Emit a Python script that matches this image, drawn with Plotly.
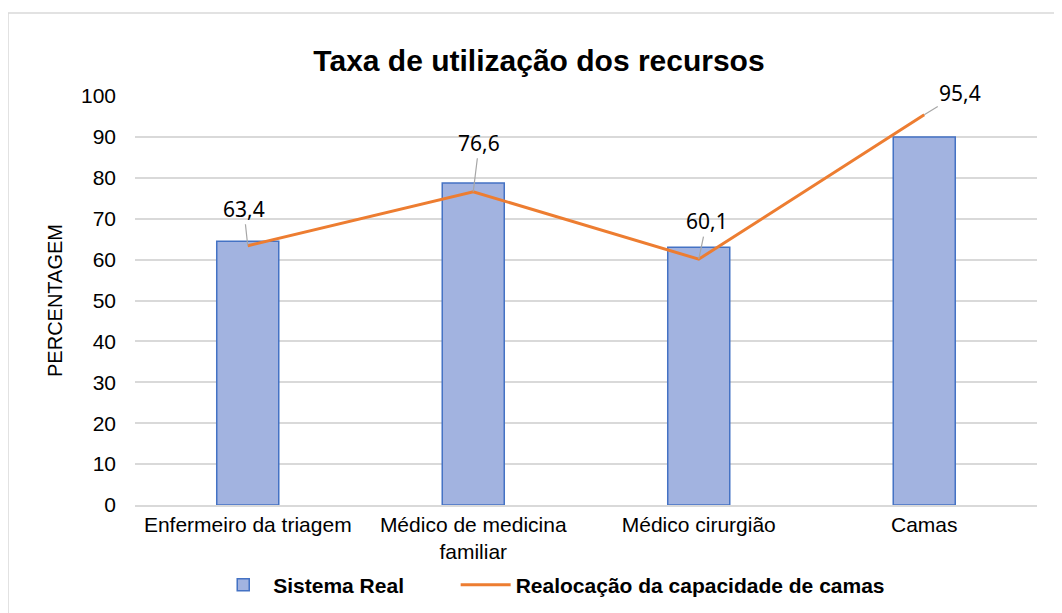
import plotly.graph_objects as go

categories = ["Enfermeiro da triagem", "Médico de medicina<br>familiar", "Médico cirurgião", "Camas"]
sistema_real = [64.5, 78.7, 63.0, 90.0]
realocacao = [63.4, 76.6, 60.1, 95.4]
label_text = ["63,4", "76,6", "60,1", "95,4"]
label_ax = [-4, 6, 8, 36]
label_ay = [-37, -49, -38, -22]

FONT = "Liberation Sans, Arial, sans-serif"
NB = "\u00a0"

fig = go.Figure()
fig.add_trace(go.Bar(
    x=categories, y=sistema_real, name="<b>Sistema Real</b>" + NB * 8,
    marker=dict(color="#a2b3e0", line=dict(color="#4472c4", width=1.5)),
))
fig.add_trace(go.Scatter(
    x=categories, y=realocacao, name="<b>Realocação da capacidade de camas</b>",
    mode="lines", line=dict(color="#ed7d31", width=3),
))

for c, v, t, ax, ay in zip(categories, realocacao, label_text, label_ax, label_ay):
    fig.add_annotation(
        x=c, y=v, text=t, showarrow=True, arrowhead=0, arrowwidth=1.2,
        arrowcolor="#a6a6a6", ax=ax, ay=ay, standoff=0,
        font=dict(family="Noto Sans, Liberation Sans, sans-serif", size=21, color="#000"),
    )

# outer chart border
fig.add_shape(type="rect", xref="paper", yref="paper",
              x0=-0.1408, x1=1.08, y0=-0.30, y1=1.2029,
              line=dict(color="#d9d9d9", width=1.5), fillcolor="rgba(0,0,0,0)", layer="below")

fig.update_layout(
    width=1062, height=613,
    margin=dict(l=127, r=33, t=88, b=116),
    paper_bgcolor="white", plot_bgcolor="white",
    title=dict(text="<b>Taxa de utilização dos recursos</b>", x=0.5, xanchor="center",
               y=1 - 52 / 613, yanchor="middle",
               font=dict(family=FONT, size=30, color="#000")),
    bargap=0.725,
    showlegend=True,
    legend=dict(orientation="h", x=0.462, xanchor="center", y=-0.1956, yanchor="middle",
                font=dict(family=FONT, size=21, color="#000"), itemwidth=50,
                traceorder="normal"),
    font=dict(family=FONT, size=21, color="#000"),
)

fig.update_yaxes(range=[0, 100], dtick=10, showgrid=True, gridcolor="#d9d9d9", gridwidth=1.5,
                 zeroline=False, showline=False, ticks="", ticklen=0, ticklabelstandoff=18,
                 tickfont=dict(family=FONT, size=21, color="#000"),
                 title=dict(text="PERCENTAGEM", font=dict(family=FONT, size=20, color="#000"), standoff=12))
fig.update_xaxes(showline=True, linecolor="#d9d9d9", linewidth=1.5, ticks="",
                 tickfont=dict(family=FONT, size=21, color="#000"))

fig.write_html("out.html")
